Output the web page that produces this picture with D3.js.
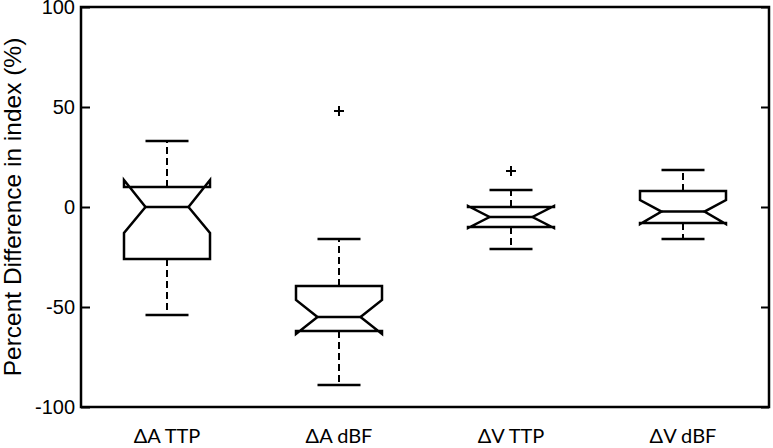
<!DOCTYPE html>
<html>
<head>
<meta charset="utf-8">
<script src="https://cdn.jsdelivr.net/npm/d3@7"></script>
<style>
  body { margin: 0; background: #fff; }
  svg { display: block; }
</style>
</head>
<body>
<div id="wrapper"></div>
<script>
// data
const categories = ["\u0394A TTP", "\u0394A dBF", "\u0394V TTP", "\u0394V dBF"];
const whiskerLow = [-54, -89, -21, -16];
const q1 = [-26, -62, -10, -8];
const median = [0, -55, -5, -2.3];
const q3 = [10, -39.5, 0, 8];
const whiskerHigh = [33, -16, 8.5, 18.5];
const notchLow = [-13, -63.5, -10.5, -8.5];
const notchHigh = [13.5, -46.5, 0.5, 3.5];
const outliers = [[], [48], [18], []];
const yTicks = [-100, -50, 0, 50, 100];

let dimension = {
    width: 773,
    height: 448,
    margin: { top: 7, left: 81, bottom: 41, right: 4 }
};
dimension.boundedWidth = dimension.width - dimension.margin.left - dimension.margin.right;
dimension.boundedHeight = dimension.height - dimension.margin.top - dimension.margin.bottom;

const boxes = categories.map((c, i) => ({
    name: c, lo: whiskerLow[i], q1: q1[i], med: median[i], q3: q3[i],
    hi: whiskerHigh[i], nlo: notchLow[i], nhi: notchHigh[i], out: outliers[i]
}));

function buildPlot() {
    const svg = d3.select("#wrapper").append("svg")
        .attr("width", dimension.width)
        .attr("height", dimension.height);

    const bounds = svg.append("g")
        .attr("transform", `translate(${dimension.margin.left},${dimension.margin.top})`);

    const xScale = d3.scaleBand()
        .domain(categories)
        .range([0, dimension.boundedWidth])
        .padding(0);
    const yScale = d3.scaleLinear()
        .domain([-100, 100])
        .range([dimension.boundedHeight, 0]);

    // y axis, ticks inside, on both sides
    const yAxisLeft = bounds.append("g")
        .call(d3.axisRight(yScale).tickValues(yTicks).tickSize(9).tickFormat(""));
    yAxisLeft.select(".domain").remove();
    yAxisLeft.selectAll("line").attr("stroke", "#000").attr("stroke-width", 2);

    const yAxisRight = bounds.append("g")
        .attr("transform", `translate(${dimension.boundedWidth},0)`)
        .call(d3.axisLeft(yScale).tickValues(yTicks).tickSize(8).tickFormat(""));
    yAxisRight.select(".domain").remove();
    yAxisRight.selectAll("line").attr("stroke", "#000").attr("stroke-width", 2);

    bounds.selectAll(".ylab")
        .data(yTicks)
        .enter()
        .append("text")
        .attr("x", -6)
        .attr("y", d => yScale(d))
        .attr("dy", "0.36em")
        .attr("text-anchor", "end")
        .attr("font-family", "Liberation Sans, Arial, sans-serif")
        .attr("font-size", 20)
        .text(d => d);

    // frame
    bounds.append("rect")
        .attr("width", dimension.boundedWidth)
        .attr("height", dimension.boundedHeight)
        .attr("fill", "none")
        .attr("stroke", "#000")
        .attr("stroke-width", 2.5);

    // x labels
    bounds.selectAll(".xlab")
        .data(categories)
        .enter()
        .append("text")
        .attr("x", d => xScale(d) + xScale.bandwidth() / 2)
        .attr("y", dimension.boundedHeight + 36)
        .attr("text-anchor", "middle")
        .attr("font-family", "Lato, Open Sans, sans-serif")
        .attr("font-size", 20)
        .text(d => d);

    // y label
    svg.append("text")
        .attr("transform", `translate(21,${dimension.margin.top + yScale(0)}) rotate(-90)`)
        .attr("text-anchor", "middle")
        .attr("font-family", "Liberation Sans, Arial, sans-serif")
        .attr("font-size", 24.5)
        .text("Percent Difference in index (%)");

    const bw = xScale.bandwidth() * 0.5;
    const g = bounds.selectAll(".box")
        .data(boxes)
        .enter()
        .append("g")
        .attr("transform", d => `translate(${xScale(d.name) + xScale.bandwidth() / 2},0)`);

    // whiskers
    g.append("line")
        .attr("y1", d => yScale(d.q3)).attr("y2", d => yScale(d.hi))
        .attr("stroke", "#000").attr("stroke-width", 2).attr("stroke-dasharray", "7,4");
    g.append("line")
        .attr("y1", d => yScale(d.q1)).attr("y2", d => yScale(d.lo))
        .attr("stroke", "#000").attr("stroke-width", 2).attr("stroke-dasharray", "7,4");
    g.append("line")
        .attr("x1", -bw / 4).attr("x2", bw / 4)
        .attr("y1", d => yScale(d.hi)).attr("y2", d => yScale(d.hi))
        .attr("stroke", "#000").attr("stroke-width", 2.5);
    g.append("line")
        .attr("x1", -bw / 4).attr("x2", bw / 4)
        .attr("y1", d => yScale(d.lo)).attr("y2", d => yScale(d.lo))
        .attr("stroke", "#000").attr("stroke-width", 2.5);

    // notched box
    const line = d3.line();
    g.append("path")
        .attr("d", d => {
            const h = bw / 2, n = bw / 4;
            return line([
                [-h, yScale(d.q1)], [-h, yScale(d.nlo)], [-n, yScale(d.med)],
                [-h, yScale(d.nhi)], [-h, yScale(d.q3)], [h, yScale(d.q3)],
                [h, yScale(d.nhi)], [n, yScale(d.med)], [h, yScale(d.nlo)],
                [h, yScale(d.q1)]
            ]) + "Z";
        })
        .attr("fill", "none")
        .attr("stroke", "#000")
        .attr("stroke-width", 2.5)
        .attr("stroke-linejoin", "miter");
    g.append("line")
        .attr("x1", -bw / 4).attr("x2", bw / 4)
        .attr("y1", d => yScale(d.med)).attr("y2", d => yScale(d.med))
        .attr("stroke", "#000").attr("stroke-width", 2.5);

    // outliers as plus marks
    g.each(function (d) {
        d3.select(this).selectAll(".out")
            .data(d.out)
            .enter()
            .append("path")
            .attr("d", v => `M-5,${yScale(v)}H5M0,${yScale(v) - 5}V${yScale(v) + 5}`)
            .attr("stroke", "#000")
            .attr("stroke-width", 2);
    });
}

buildPlot();
</script>
</body>
</html>
